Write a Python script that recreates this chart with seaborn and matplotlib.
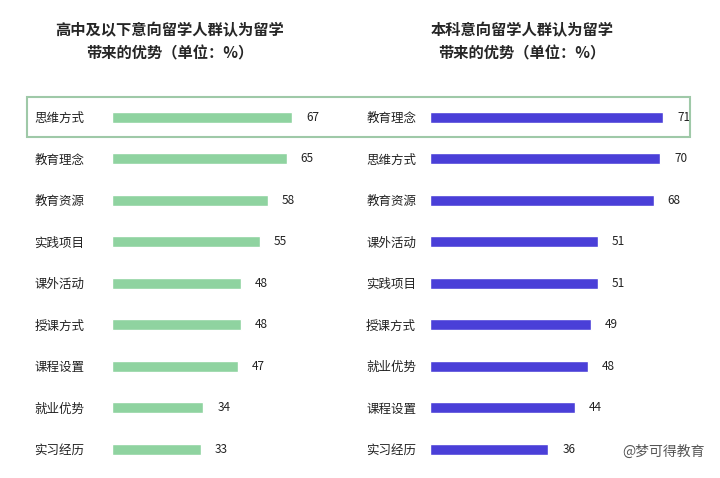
import matplotlib
matplotlib.use("Agg")
import matplotlib.pyplot as plt
import seaborn as sns
import pandas as pd
from matplotlib.patches import Rectangle

sns.set_theme(style="white")
plt.rcParams['font.family'] = ['Noto Sans CJK SC', 'DejaVu Sans']

left_cats = ['思维方式', '教育理念', '教育资源', '实践项目', '课外活动', '授课方式', '课程设置', '就业优势', '实习经历']
left_vals = [67, 65, 58, 55, 48, 48, 47, 34, 33]
right_cats = ['教育理念', '思维方式', '教育资源', '课外活动', '实践项目', '授课方式', '就业优势', '课程设置', '实习经历']
right_vals = [71, 70, 68, 51, 51, 49, 48, 44, 36]

fig = plt.figure(figsize=(7.2, 4.78), dpi=100)
W, H = 720, 478
bottom = 1 - 470 / H
height = 373.5 / H
ax1 = fig.add_axes([112 / W, bottom, 215 / W, height])
ax2 = fig.add_axes([430 / W, bottom, 263 / W, height])

for ax, cats, vals, color, pad in [(ax1, left_cats, left_vals, '#8fd3a0', 20),
                                   (ax2, right_cats, right_vals, '#4a3fd8', 10)]:
    df = pd.DataFrame({'cat': cats, 'val': vals})
    sns.barplot(data=df, x='val', y='cat', color=color, width=0.27, ax=ax, saturation=1)
    ax.set_xlim(0, 80)
    ax.set_ylim(8.5, -0.5)
    ax.set_xlabel('')
    ax.set_ylabel('')
    ax.set_xticks([])
    sns.despine(ax=ax, left=True, bottom=True)
    ax.tick_params(axis='y', length=0, pad=pad, labelsize=9)
    for lab in ax.get_yticklabels():
        lab.set_color('#222222')
    for i, v in enumerate(vals):
        ax.annotate(str(v), (v, i), xytext=(10, 0), textcoords='offset points',
                    va='center', ha='left', fontsize=8.5, color='#222222')

fig.text(170 / W, 1 - 42 / H, '高中及以下意向留学人群认为留学\n带来的优势（单位：%）',
         ha='center', va='center', fontsize=11, fontweight='bold', linespacing=1.6)
fig.text(522 / W, 1 - 42 / H, '本科意向留学人群认为留学\n带来的优势（单位：%）',
         ha='center', va='center', fontsize=11, fontweight='bold', linespacing=1.6)

fig.patches.append(Rectangle((27 / W, 1 - 137 / H), 663 / W, 40 / H, transform=fig.transFigure,
                             fill=False, edgecolor='#9fc9a8', linewidth=1.5))
fig.text(705 / W, 1 - 452 / H, '@梦可得教育', ha='right', va='center', fontsize=10, color='#555555')

fig.savefig('out.png', dpi=100)
